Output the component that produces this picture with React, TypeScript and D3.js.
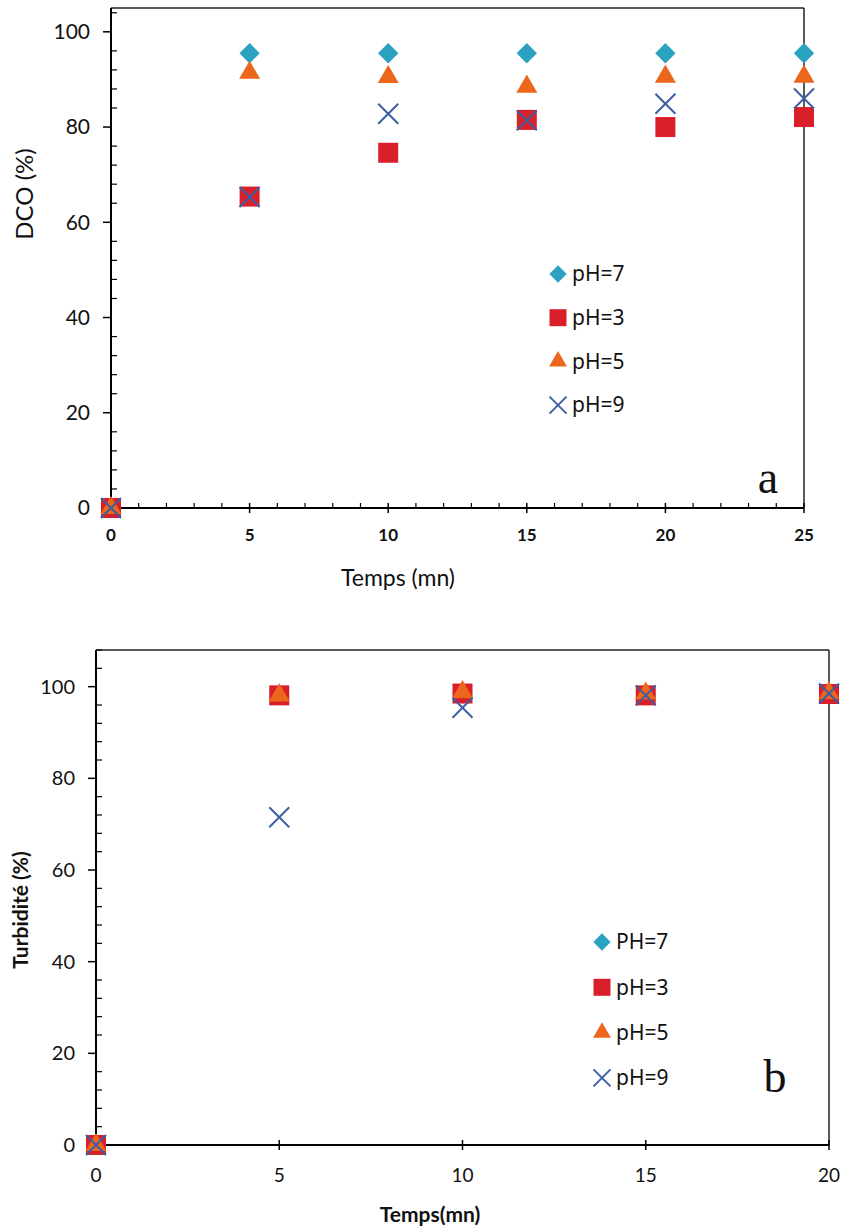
import React from "react";
import * as d3 from "d3";

// ---- Data ----
const timeA = [0, 5, 10, 15, 20, 25];
const dcoPH7 = [0, 95.5, 95.5, 95.5, 95.5, 95.5];
const dcoPH3 = [0, 65.4, 74.6, 81.5, 80.0, 82.1];
const dcoPH5 = [0, 91.4, 90.5, 88.5, 90.6, 90.6];
const dcoPH9 = [0, 65.3, 82.8, 81.4, 84.9, 86.0];
const legendA = ["pH=7", "pH=3", "pH=5", "pH=9"];

const timeB = [0, 5, 10, 15, 20];
const turbPH7 = [0, 98.3, 98.5, 98.3, 98.5];
const turbPH3 = [0, 98.1, 98.5, 98.1, 98.4];
const turbPH5 = [0, 98.1, 98.8, 98.5, 98.6];
const turbPH9 = [0, 71.5, 95.4, 98.1, 98.5];
const legendB = ["PH=7", "pH=3", "pH=5", "pH=9"];

const yTicks = [0, 20, 40, 60, 80, 100];
const xTicksA = [0, 5, 10, 15, 20, 25];
const xTicksB = [0, 5, 10, 15, 20];

const COLORS = ["#2BA2C0", "#D91F2A", "#EC661B", "#3B5FA3"];
const SHAPES = ["diamond", "square", "triangle", "x"];

function Marker({ shape, color, x, y, s }: { shape: string; color: string; x: number; y: number; s: number }) {
  if (shape === "diamond") {
    const p = d3.symbol().type(d3.symbolSquare).size((s * 0.72) ** 2)();
    return <path d={p as string} transform={`translate(${x},${y}) rotate(45)`} fill={color} />;
  }
  if (shape === "square") {
    const p = d3.symbol().type(d3.symbolSquare).size(s * s)();
    return <path d={p as string} transform={`translate(${x},${y})`} fill={color} />;
  }
  if (shape === "triangle") {
    const side = s * 1.05;
    const p = d3.symbol().type(d3.symbolTriangle).size((Math.sqrt(3) / 4) * side * side)();
    return <path d={p as string} transform={`translate(${x},${y})`} fill={color} />;
  }
  const h = s / 2;
  return (
    <g stroke={color} strokeWidth={2} fill="none">
      <line x1={x - h} y1={y - h} x2={x + h} y2={y + h} />
      <line x1={x - h} y1={y + h} x2={x + h} y2={y - h} />
    </g>
  );
}

type ChartProps = {
  left: number; right: number; top: number; bottom: number;
  xMax: number; yMax: number; xs: number[]; series: number[][];
  xTicks: number[]; minorX: boolean; boldX: boolean;
  xLabel: string; xLabelPos: [number, number]; xLabelBold: boolean; xLabelSize: number;
  yLabel: string; yLabelPos: [number, number]; yLabelBold: boolean; yLabelSize: number;
  legend: string[]; legX: number; legY: number; legStep: number;
  letter: string; letterPos: [number, number];
  xTickSize: number; yTickSize: number; xTickY: number; yTickX: number;
};

function Chart(p: ChartProps) {
  const x = d3.scaleLinear().domain([0, p.xMax]).range([p.left, p.right]);
  const y = d3.scaleLinear().domain([0, p.yMax]).range([p.bottom, p.top]);
  const minorY = d3.range(0, p.yMax + 0.001, 4).filter((v) => v % 20 !== 0);
  const minorXs = p.minorX ? d3.range(0, p.xMax + 0.001, 1).filter((v) => v % 5 !== 0) : [];
  const font = "Lato, 'Open Sans', sans-serif";
  return (
    <g>
      {/* frame */}
      <line x1={p.left} y1={p.top} x2={p.right} y2={p.top} stroke="#222" strokeWidth={1.5} />
      <line x1={p.right} y1={p.top} x2={p.right} y2={p.bottom} stroke="#222" strokeWidth={1.5} />
      <line x1={p.left} y1={p.top} x2={p.left} y2={p.bottom} stroke="#000" strokeWidth={2} />
      <line x1={p.left} y1={p.bottom} x2={p.right} y2={p.bottom} stroke="#000" strokeWidth={2} />
      {/* y ticks */}
      {yTicks.map((t) => (
        <g key={"y" + t}>
          <line x1={p.left - 8} x2={p.left} y1={y(t)} y2={y(t)} stroke="#000" strokeWidth={1.5} />
          <text x={p.yTickX} y={y(t)} dy="0.35em" textAnchor="end" fontFamily={font} fontSize={p.yTickSize} fill="#111">{t}</text>
        </g>
      ))}
      {minorY.map((t) => (
        <line key={"my" + t} x1={p.left} x2={p.left + 6} y1={y(t)} y2={y(t)} stroke="#000" strokeWidth={1.2} />
      ))}
      {/* x ticks */}
      {p.xTicks.map((t) => (
        <g key={"x" + t}>
          <line x1={x(t)} x2={x(t)} y1={p.bottom - 5} y2={p.bottom + 5} stroke="#000" strokeWidth={1.5} />
          <text x={x(t)} y={p.xTickY} dy="0.35em" textAnchor="middle" fontFamily={font} fontWeight={p.boldX ? 700 : 400} fontSize={p.xTickSize} fill="#111">{t}</text>
        </g>
      ))}
      {minorXs.map((t) => (
        <line key={"mx" + t} x1={x(t)} x2={x(t)} y1={p.bottom - 5} y2={p.bottom} stroke="#000" strokeWidth={1.2} />
      ))}
      {/* labels */}
      <text x={p.xLabelPos[0]} y={p.xLabelPos[1]} dy="0.35em" textAnchor="middle" fontFamily={font} fontWeight={p.xLabelBold ? 700 : 400} fontSize={p.xLabelSize} fill="#111">{p.xLabel}</text>
      <text transform={`translate(${p.yLabelPos[0]},${p.yLabelPos[1]}) rotate(-90)`} dy="0.35em" textAnchor="middle" fontFamily={font} fontWeight={p.yLabelBold ? 700 : 400} fontSize={p.yLabelSize} fill="#111">{p.yLabel}</text>
      <text x={p.letterPos[0]} y={p.letterPos[1]} textAnchor="middle" fontFamily="'Liberation Serif', serif" fontSize={46} fill="#111">{p.letter}</text>
      {/* series */}
      {p.series.map((vals, si) => (
        <g key={"s" + si}>
          {vals.map((v, i) => (
            <Marker key={i} shape={SHAPES[si]} color={COLORS[si]} x={x(p.xs[i])} y={y(v)} s={20} />
          ))}
        </g>
      ))}
      {/* legend */}
      {p.legend.map((l, i) => (
        <g key={"l" + i}>
          <Marker shape={SHAPES[i]} color={COLORS[i]} x={p.legX} y={p.legY + i * p.legStep} s={17} />
          <text x={p.legX + 14} y={p.legY + i * p.legStep} dy="0.35em" fontFamily="'Noto Sans', sans-serif" fontSize={21} fill="#111">{l}</text>
        </g>
      ))}
    </g>
  );
}

export default function App() {
  return (
    <svg width={842} height={1230} style={{ position: "absolute", left: 0, top: 0, background: "#fff" }}>
      <Chart
        left={111} right={804} top={8} bottom={508} xMax={25} yMax={105}
        xs={timeA} series={[dcoPH7, dcoPH3, dcoPH5, dcoPH9]}
        xTicks={xTicksA} minorX={true} boldX={true}
        xLabel="Temps (mn)" xLabelPos={[398, 578]} xLabelBold={false} xLabelSize={23}
        yLabel="DCO (%)" yLabelPos={[25, 194]} yLabelBold={false} yLabelSize={24}
        legend={legendA} legX={558} legY={274} legStep={43.7}
        letter="a" letterPos={[768, 493]}
        xTickSize={17} yTickSize={21} xTickY={535} yTickX={90}
      />
      <Chart
        left={96} right={829} top={650} bottom={1145} xMax={20} yMax={108}
        xs={timeB} series={[turbPH7, turbPH3, turbPH5, turbPH9]}
        xTicks={xTicksB} minorX={false} boldX={false}
        xLabel="Temps(mn)" xLabelPos={[430, 1215]} xLabelBold={true} xLabelSize={21}
        yLabel="Turbidité (%)" yLabelPos={[21, 910]} yLabelBold={true} yLabelSize={21}
        legend={legendB} legX={602} legY={942} legStep={45.3}
        letter="b" letterPos={[775, 1092]}
        xTickSize={19} yTickSize={20} xTickY={1175} yTickX={75}
      />
    </svg>
  );
}
